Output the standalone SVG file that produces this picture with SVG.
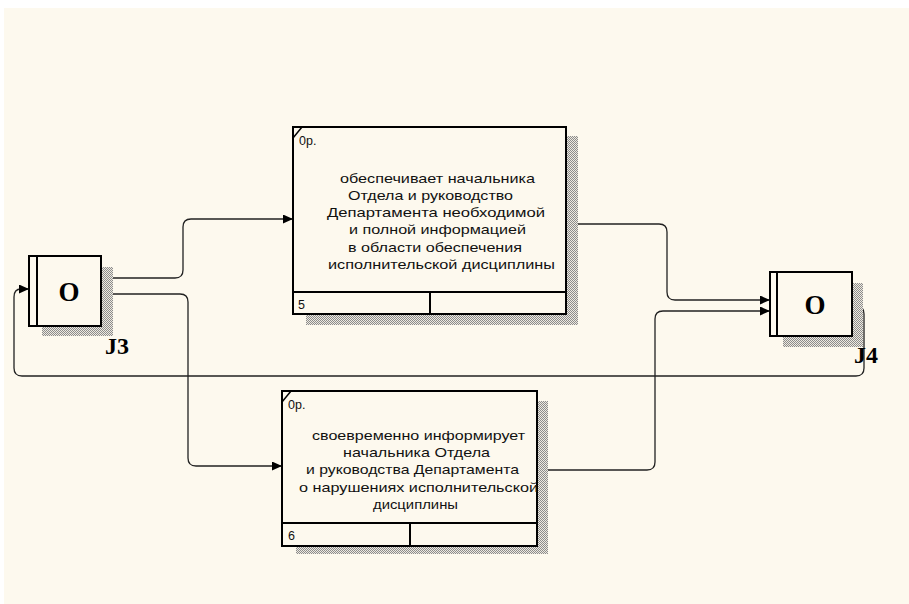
<svg xmlns="http://www.w3.org/2000/svg" width="909" height="604" viewBox="0 0 909 604">
<style>
.bg{fill:#fdf9ee}
.box{fill:#fdf9ee;stroke:#000;stroke-width:2}
.sh{fill:url(#hatch)}
.t{font-family:"Liberation Sans",Arial,sans-serif;font-size:13px;fill:#111}
.s{font-family:"Liberation Sans",Arial,sans-serif;font-size:12.5px;fill:#111}
.big{font-family:"Liberation Serif","Times New Roman",serif;font-weight:bold;fill:#000}
.c{fill:none;stroke:#222;stroke-width:1.3}
</style>
<defs>
<pattern id="hatch" width="2" height="2" patternUnits="userSpaceOnUse">
<rect width="2" height="2" fill="#eeeae0"/>
<rect x="0" y="0" width="1" height="1" fill="#8c8c8c"/>
<rect x="1" y="1" width="1" height="1" fill="#8c8c8c"/>
</pattern>
<marker id="arr" markerWidth="11" markerHeight="9" refX="10" refY="4.5" orient="auto" markerUnits="userSpaceOnUse">
<path d="M0,0 L10,4.5 L0,9 Z" fill="#000"/>
</marker>
</defs>
<rect class="bg" x="4" y="8" width="905" height="596"/>

<g id="connectors">
<path class="c" d="M101,278 H175 Q183,278 183,270 V227 Q183,219 191,219 H293" marker-end="url(#arr)"/>
<path class="c" d="M101,294 H180 Q188,294 188,302 V458 Q188,466 196,466 H282" marker-end="url(#arr)"/>
<path class="c" d="M566,224 H659 Q667,224 667,232 V292 Q667,300 675,300 H770" marker-end="url(#arr)"/>
<path class="c" d="M537,470 H647 Q655,470 655,462 V319 Q655,311 663,311 H770" marker-end="url(#arr)"/>
<path class="c" d="M852,306 H856 Q864,306 864,314 V368 Q864,376 856,376 H22 Q14,376 14,368 V297 Q14,289 21,289 H29" marker-end="url(#arr)"/>
</g>

<g id="box5">
<rect class="sh" x="306" y="136" width="272" height="189"/>
<rect class="box" x="293" y="127" width="273" height="187"/>
<line x1="293" y1="292" x2="566" y2="292" stroke="#000" stroke-width="2"/>
<line x1="430" y1="292" x2="430" y2="314" stroke="#000" stroke-width="2"/>
<line x1="293" y1="138" x2="302" y2="127" stroke="#000" stroke-width="1.5"/>
<text class="s" x="299" y="145">0р.</text>
<text class="t" x="340" y="183" textLength="195" lengthAdjust="spacingAndGlyphs">обеспечивает начальника</text>
<text class="t" x="348" y="200" textLength="165" lengthAdjust="spacingAndGlyphs">Отдела  и руководство</text>
<text class="t" x="327" y="217" textLength="218" lengthAdjust="spacingAndGlyphs">Департамента  необходимой</text>
<text class="t" x="349" y="234" textLength="177" lengthAdjust="spacingAndGlyphs">и полной информацией</text>
<text class="t" x="348" y="252" textLength="174" lengthAdjust="spacingAndGlyphs">в области обеспечения</text>
<text class="t" x="328" y="269" textLength="227" lengthAdjust="spacingAndGlyphs">исполнительской дисциплины</text>
<text class="s" x="298" y="309">5</text>
</g>

<g id="box6">
<rect class="sh" x="296" y="401" width="252" height="153"/>
<rect class="box" x="282" y="391" width="255" height="155"/>
<line x1="282" y1="523" x2="537" y2="523" stroke="#000" stroke-width="2"/>
<line x1="410" y1="523" x2="410" y2="546" stroke="#000" stroke-width="2"/>
<line x1="282" y1="402" x2="291" y2="391" stroke="#000" stroke-width="1.5"/>
<text class="s" x="288" y="409">0р.</text>
<text class="t" x="312" y="440" textLength="213" lengthAdjust="spacingAndGlyphs">своевременно информирует</text>
<text class="t" x="343" y="457" textLength="147" lengthAdjust="spacingAndGlyphs">начальника Отдела</text>
<text class="t" x="306" y="474" textLength="213" lengthAdjust="spacingAndGlyphs">и руководства Департамента</text>
<text class="t" x="299" y="492" textLength="239" lengthAdjust="spacingAndGlyphs">о нарушениях  исполнительской</text>
<text class="t" x="373" y="509" textLength="85" lengthAdjust="spacingAndGlyphs">дисциплины</text>
<text class="s" x="288" y="540">6</text>
</g>

<g id="J3">
<rect class="sh" x="42" y="267" width="71" height="69"/>
<rect class="box" x="29" y="256" width="72" height="70"/>
<line x1="37" y1="256" x2="37" y2="326" stroke="#000" stroke-width="2"/>
<text class="big" x="69" y="301" font-size="27" text-anchor="middle">O</text>
<text class="big" x="117" y="354" font-size="24" text-anchor="middle">J3</text>
</g>

<g id="J4">
<rect class="sh" x="783" y="283" width="80" height="64"/>
<rect class="box" x="770" y="272" width="82" height="64"/>
<line x1="777" y1="272" x2="777" y2="336" stroke="#000" stroke-width="2"/>
<text class="big" x="815" y="314" font-size="27" text-anchor="middle">O</text>
<text class="big" x="866" y="363" font-size="24" text-anchor="middle">J4</text>
</g>
</svg>
